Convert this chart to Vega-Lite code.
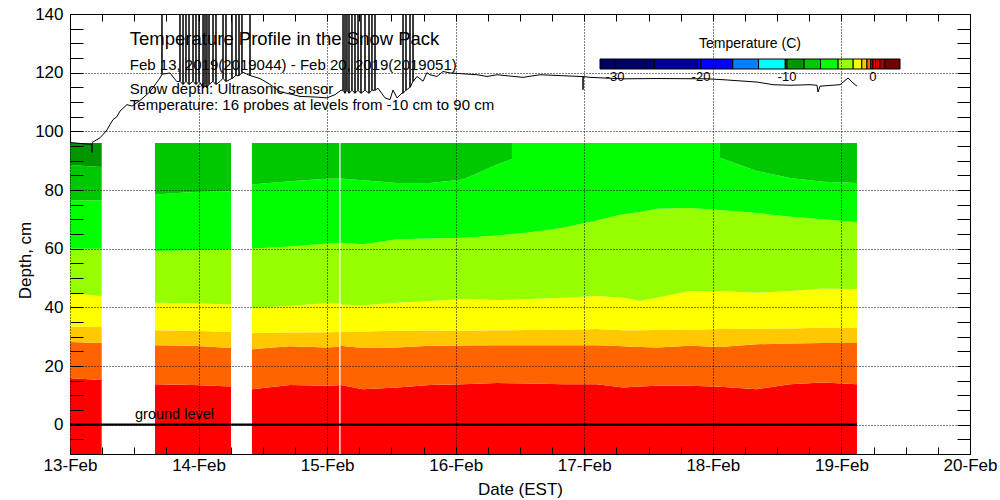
{
  "$schema": "https://vega.github.io/schema/vega-lite/v6.json",
  "width": 900,
  "height": 440,
  "autosize": "none",
  "padding": {"left": 70, "top": 14, "right": 30, "bottom": 46},
  "config": {
    "font": "Liberation Sans",
    "view": {"stroke": "black", "strokeWidth": 1},
    "axis": {"labelColor": "black", "tickColor": "black", "titleColor": "black", "labelFontSize": 17, "titleFontSize": 17, "titleFontWeight": "normal", "domain": false}
  },
  "datasets": {
    "bands": [
      {"t":"2019-02-13T00:00","g":"a","T":0,"lo":-10,"hi":15.8},
      {"t":"2019-02-13T00:00","g":"a","T":-0.5,"lo":15.8,"hi":28.2},
      {"t":"2019-02-13T00:00","g":"a","T":-1,"lo":28.2,"hi":33.5},
      {"t":"2019-02-13T00:00","g":"a","T":-1.8,"lo":33.5,"hi":45},
      {"t":"2019-02-13T00:00","g":"a","T":-3,"lo":45,"hi":60},
      {"t":"2019-02-13T00:00","g":"a","T":-5,"lo":60,"hi":76.5},
      {"t":"2019-02-13T00:00","g":"a","T":-7,"lo":76.5,"hi":88.5},
      {"t":"2019-02-13T00:00","g":"a","T":-9,"lo":88.5,"hi":96},
      {"t":"2019-02-13T05:55","g":"a","T":0,"lo":-10,"hi":15.2},
      {"t":"2019-02-13T05:55","g":"a","T":-0.5,"lo":15.2,"hi":27.8},
      {"t":"2019-02-13T05:55","g":"a","T":-1,"lo":27.8,"hi":33.3},
      {"t":"2019-02-13T05:55","g":"a","T":-1.8,"lo":33.3,"hi":43.8},
      {"t":"2019-02-13T05:55","g":"a","T":-3,"lo":43.8,"hi":60},
      {"t":"2019-02-13T05:55","g":"a","T":-5,"lo":60,"hi":76.4},
      {"t":"2019-02-13T05:55","g":"a","T":-7,"lo":76.4,"hi":87.8},
      {"t":"2019-02-13T05:55","g":"a","T":-9,"lo":87.8,"hi":96},
      {"t":"2019-02-13T15:52","g":"b","T":0,"lo":-10,"hi":13.8},
      {"t":"2019-02-13T15:52","g":"b","T":-0.5,"lo":13.8,"hi":27.1},
      {"t":"2019-02-13T15:52","g":"b","T":-1,"lo":27.1,"hi":32.2},
      {"t":"2019-02-13T15:52","g":"b","T":-1.8,"lo":32.2,"hi":41.6},
      {"t":"2019-02-13T15:52","g":"b","T":-3,"lo":41.6,"hi":59.2},
      {"t":"2019-02-13T15:52","g":"b","T":-5,"lo":59.2,"hi":78.5},
      {"t":"2019-02-13T15:52","g":"b","T":-7,"lo":78.5,"hi":96},
      {"t":"2019-02-13T22:58","g":"b","T":0,"lo":-10,"hi":13.5},
      {"t":"2019-02-13T22:58","g":"b","T":-0.5,"lo":13.5,"hi":26.9},
      {"t":"2019-02-13T22:58","g":"b","T":-1,"lo":26.9,"hi":32},
      {"t":"2019-02-13T22:58","g":"b","T":-1.8,"lo":32,"hi":41.4},
      {"t":"2019-02-13T22:58","g":"b","T":-3,"lo":41.4,"hi":59.5},
      {"t":"2019-02-13T22:58","g":"b","T":-5,"lo":59.5,"hi":79.3},
      {"t":"2019-02-13T22:58","g":"b","T":-7,"lo":79.3,"hi":96},
      {"t":"2019-02-14T06:03","g":"b","T":0,"lo":-10,"hi":13},
      {"t":"2019-02-14T06:03","g":"b","T":-0.5,"lo":13,"hi":26.1},
      {"t":"2019-02-14T06:03","g":"b","T":-1,"lo":26.1,"hi":31.6},
      {"t":"2019-02-14T06:03","g":"b","T":-1.8,"lo":31.6,"hi":41},
      {"t":"2019-02-14T06:03","g":"b","T":-3,"lo":41,"hi":59.8},
      {"t":"2019-02-14T06:03","g":"b","T":-5,"lo":59.8,"hi":79.6},
      {"t":"2019-02-14T06:03","g":"b","T":-7,"lo":79.6,"hi":96},
      {"t":"2019-02-14T09:58","g":"c","T":0,"lo":-10,"hi":12.1},
      {"t":"2019-02-14T09:58","g":"c","T":-0.5,"lo":12.1,"hi":25.7},
      {"t":"2019-02-14T09:58","g":"c","T":-1,"lo":25.7,"hi":31.2},
      {"t":"2019-02-14T09:58","g":"c","T":-1.8,"lo":31.2,"hi":39.7},
      {"t":"2019-02-14T09:58","g":"c","T":-3,"lo":39.7,"hi":60},
      {"t":"2019-02-14T09:58","g":"c","T":-5,"lo":60,"hi":81.9},
      {"t":"2019-02-14T09:58","g":"c","T":-7,"lo":81.9,"hi":96},
      {"t":"2019-02-14T17:04","g":"c","T":0,"lo":-10,"hi":13.5},
      {"t":"2019-02-14T17:04","g":"c","T":-0.5,"lo":13.5,"hi":26.7},
      {"t":"2019-02-14T17:04","g":"c","T":-1,"lo":26.7,"hi":31.4},
      {"t":"2019-02-14T17:04","g":"c","T":-1.8,"lo":31.4,"hi":40.5},
      {"t":"2019-02-14T17:04","g":"c","T":-3,"lo":40.5,"hi":60.7},
      {"t":"2019-02-14T17:04","g":"c","T":-5,"lo":60.7,"hi":83},
      {"t":"2019-02-14T17:04","g":"c","T":-7,"lo":83,"hi":96},
      {"t":"2019-02-14T23:58","g":"c","T":0,"lo":-10,"hi":13.3},
      {"t":"2019-02-14T23:58","g":"c","T":-0.5,"lo":13.3,"hi":26.3},
      {"t":"2019-02-14T23:58","g":"c","T":-1,"lo":26.3,"hi":31.5},
      {"t":"2019-02-14T23:58","g":"c","T":-1.8,"lo":31.5,"hi":41.4},
      {"t":"2019-02-14T23:58","g":"c","T":-3,"lo":41.4,"hi":61.8},
      {"t":"2019-02-14T23:58","g":"c","T":-5,"lo":61.8,"hi":83.8},
      {"t":"2019-02-14T23:58","g":"c","T":-7,"lo":83.8,"hi":96},
      {"t":"2019-02-15T02:16","g":"c","T":0,"lo":-10,"hi":13.4},
      {"t":"2019-02-15T02:16","g":"c","T":-0.5,"lo":13.4,"hi":26.6},
      {"t":"2019-02-15T02:16","g":"c","T":-1,"lo":26.6,"hi":31.6},
      {"t":"2019-02-15T02:16","g":"c","T":-1.8,"lo":31.6,"hi":41.2},
      {"t":"2019-02-15T02:16","g":"c","T":-3,"lo":41.2,"hi":62},
      {"t":"2019-02-15T02:16","g":"c","T":-5,"lo":62,"hi":83.9},
      {"t":"2019-02-15T02:16","g":"c","T":-7,"lo":83.9,"hi":96},
      {"t":"2019-02-15T02:30","g":"d","T":0,"lo":-10,"hi":13.5},
      {"t":"2019-02-15T02:30","g":"d","T":-0.5,"lo":13.5,"hi":26.9},
      {"t":"2019-02-15T02:30","g":"d","T":-1,"lo":26.9,"hi":31.6},
      {"t":"2019-02-15T02:30","g":"d","T":-1.8,"lo":31.6,"hi":41},
      {"t":"2019-02-15T02:30","g":"d","T":-3,"lo":41,"hi":62},
      {"t":"2019-02-15T02:30","g":"d","T":-5,"lo":62,"hi":83.9},
      {"t":"2019-02-15T02:30","g":"d1","T":-7,"lo":83.9,"hi":96},
      {"t":"2019-02-15T06:42","g":"d","T":0,"lo":-10,"hi":12.1},
      {"t":"2019-02-15T06:42","g":"d","T":-0.5,"lo":12.1,"hi":26.1},
      {"t":"2019-02-15T06:42","g":"d","T":-1,"lo":26.1,"hi":31.8},
      {"t":"2019-02-15T06:42","g":"d","T":-1.8,"lo":31.8,"hi":40.7},
      {"t":"2019-02-15T06:42","g":"d","T":-3,"lo":40.7,"hi":61.5},
      {"t":"2019-02-15T06:42","g":"d","T":-5,"lo":61.5,"hi":83.3},
      {"t":"2019-02-15T06:42","g":"d1","T":-7,"lo":83.3,"hi":96},
      {"t":"2019-02-15T13:02","g":"d","T":0,"lo":-10,"hi":12.7},
      {"t":"2019-02-15T13:02","g":"d","T":-0.5,"lo":12.7,"hi":26.3},
      {"t":"2019-02-15T13:02","g":"d","T":-1,"lo":26.3,"hi":32},
      {"t":"2019-02-15T13:02","g":"d","T":-1.8,"lo":32,"hi":41.6},
      {"t":"2019-02-15T13:02","g":"d","T":-3,"lo":41.6,"hi":63.2},
      {"t":"2019-02-15T13:02","g":"d","T":-5,"lo":63.2,"hi":82.4},
      {"t":"2019-02-15T13:02","g":"d1","T":-7,"lo":82.4,"hi":96},
      {"t":"2019-02-15T19:12","g":"d","T":0,"lo":-10,"hi":13.5},
      {"t":"2019-02-15T19:12","g":"d","T":-0.5,"lo":13.5,"hi":26.9},
      {"t":"2019-02-15T19:12","g":"d","T":-1,"lo":26.9,"hi":32.1},
      {"t":"2019-02-15T19:12","g":"d","T":-1.8,"lo":32.1,"hi":42.2},
      {"t":"2019-02-15T19:12","g":"d","T":-3,"lo":42.2,"hi":63.5},
      {"t":"2019-02-15T19:12","g":"d","T":-5,"lo":63.5,"hi":82.4},
      {"t":"2019-02-15T19:12","g":"d1","T":-7,"lo":82.4,"hi":96},
      {"t":"2019-02-16T01:22","g":"d","T":0,"lo":-10,"hi":13.8},
      {"t":"2019-02-16T01:22","g":"d","T":-0.5,"lo":13.8,"hi":27},
      {"t":"2019-02-16T01:22","g":"d","T":-1,"lo":27,"hi":32},
      {"t":"2019-02-16T01:22","g":"d","T":-1.8,"lo":32,"hi":42.8},
      {"t":"2019-02-16T01:22","g":"d","T":-3,"lo":42.8,"hi":63.7},
      {"t":"2019-02-16T01:22","g":"d","T":-5,"lo":63.7,"hi":83.6},
      {"t":"2019-02-16T01:22","g":"d1","T":-7,"lo":83.6,"hi":96},
      {"t":"2019-02-16T07:42","g":"d","T":0,"lo":-10,"hi":14.2},
      {"t":"2019-02-16T07:42","g":"d","T":-0.5,"lo":14.2,"hi":27.1},
      {"t":"2019-02-16T07:42","g":"d","T":-1,"lo":27.1,"hi":32.2},
      {"t":"2019-02-16T07:42","g":"d","T":-1.8,"lo":32.2,"hi":42.5},
      {"t":"2019-02-16T07:42","g":"d","T":-3,"lo":42.5,"hi":64.5},
      {"t":"2019-02-16T07:42","g":"d","T":-5,"lo":64.5,"hi":88.7},
      {"t":"2019-02-16T07:42","g":"d1","T":-7,"lo":88.7,"hi":96},
      {"t":"2019-02-16T10:30","g":"d","T":0,"lo":-10,"hi":14.1},
      {"t":"2019-02-16T10:30","g":"d","T":-0.5,"lo":14.1,"hi":27.1},
      {"t":"2019-02-16T10:30","g":"d","T":-1,"lo":27.1,"hi":32.2},
      {"t":"2019-02-16T10:30","g":"d","T":-1.8,"lo":32.2,"hi":42.6},
      {"t":"2019-02-16T10:30","g":"d","T":-3,"lo":42.6,"hi":65},
      {"t":"2019-02-16T10:30","g":"d","T":-5,"lo":65,"hi":90.6},
      {"t":"2019-02-16T10:30","g":"d1","T":-7,"lo":90.6,"hi":96},
      {"t":"2019-02-16T10:31","g":"d","T":-5,"lo":65,"hi":96},
      {"t":"2019-02-16T13:52","g":"d","T":0,"lo":-10,"hi":14},
      {"t":"2019-02-16T13:52","g":"d","T":-0.5,"lo":14,"hi":27.1},
      {"t":"2019-02-16T13:52","g":"d","T":-1,"lo":27.1,"hi":32.3},
      {"t":"2019-02-16T13:52","g":"d","T":-1.8,"lo":32.3,"hi":42.8},
      {"t":"2019-02-16T13:52","g":"d","T":-3,"lo":42.8,"hi":65.6},
      {"t":"2019-02-16T13:52","g":"d","T":-5,"lo":65.6,"hi":96},
      {"t":"2019-02-16T20:02","g":"d","T":0,"lo":-10,"hi":13.8},
      {"t":"2019-02-16T20:02","g":"d","T":-0.5,"lo":13.8,"hi":27.1},
      {"t":"2019-02-16T20:02","g":"d","T":-1,"lo":27.1,"hi":32.4},
      {"t":"2019-02-16T20:02","g":"d","T":-1.8,"lo":32.4,"hi":43.3},
      {"t":"2019-02-16T20:02","g":"d","T":-3,"lo":43.3,"hi":67.1},
      {"t":"2019-02-16T20:02","g":"d","T":-5,"lo":67.1,"hi":96},
      {"t":"2019-02-17T02:22","g":"d","T":0,"lo":-10,"hi":13.8},
      {"t":"2019-02-17T02:22","g":"d","T":-0.5,"lo":13.8,"hi":27.1},
      {"t":"2019-02-17T02:22","g":"d","T":-1,"lo":27.1,"hi":32.6},
      {"t":"2019-02-17T02:22","g":"d","T":-1.8,"lo":32.6,"hi":43.9},
      {"t":"2019-02-17T02:22","g":"d","T":-3,"lo":43.9,"hi":69.7},
      {"t":"2019-02-17T02:22","g":"d","T":-5,"lo":69.7,"hi":96},
      {"t":"2019-02-17T07:14","g":"d","T":0,"lo":-10,"hi":12.7},
      {"t":"2019-02-17T07:14","g":"d","T":-0.5,"lo":12.7,"hi":26.7},
      {"t":"2019-02-17T07:14","g":"d","T":-1,"lo":26.7,"hi":32.2},
      {"t":"2019-02-17T07:14","g":"d","T":-1.8,"lo":32.2,"hi":43.3},
      {"t":"2019-02-17T07:14","g":"d","T":-3,"lo":43.3,"hi":71.7},
      {"t":"2019-02-17T07:14","g":"d","T":-5,"lo":71.7,"hi":96},
      {"t":"2019-02-17T10:24","g":"d","T":0,"lo":-10,"hi":13},
      {"t":"2019-02-17T10:24","g":"d","T":-0.5,"lo":13,"hi":26.5},
      {"t":"2019-02-17T10:24","g":"d","T":-1,"lo":26.5,"hi":32.2},
      {"t":"2019-02-17T10:24","g":"d","T":-1.8,"lo":32.2,"hi":42.2},
      {"t":"2019-02-17T10:24","g":"d","T":-3,"lo":42.2,"hi":72.5},
      {"t":"2019-02-17T10:24","g":"d","T":-5,"lo":72.5,"hi":96},
      {"t":"2019-02-17T13:34","g":"d","T":0,"lo":-10,"hi":13.3},
      {"t":"2019-02-17T13:34","g":"d","T":-0.5,"lo":13.3,"hi":26.3},
      {"t":"2019-02-17T13:34","g":"d","T":-1,"lo":26.3,"hi":32.3},
      {"t":"2019-02-17T13:34","g":"d","T":-1.8,"lo":32.3,"hi":43.3},
      {"t":"2019-02-17T13:34","g":"d","T":-3,"lo":43.3,"hi":73.6},
      {"t":"2019-02-17T13:34","g":"d","T":-5,"lo":73.6,"hi":96},
      {"t":"2019-02-17T19:44","g":"d","T":0,"lo":-10,"hi":13.3},
      {"t":"2019-02-17T19:44","g":"d","T":-0.5,"lo":13.3,"hi":26.9},
      {"t":"2019-02-17T19:44","g":"d","T":-1,"lo":26.9,"hi":32.4},
      {"t":"2019-02-17T19:44","g":"d","T":-1.8,"lo":32.4,"hi":45.6},
      {"t":"2019-02-17T19:44","g":"d","T":-3,"lo":45.6,"hi":73.9},
      {"t":"2019-02-17T19:44","g":"d","T":-5,"lo":73.9,"hi":96},
      {"t":"2019-02-18T01:19","g":"d","T":-5,"lo":73.2,"hi":96},
      {"t":"2019-02-18T01:20","g":"d","T":0,"lo":-10,"hi":12.9},
      {"t":"2019-02-18T01:20","g":"d","T":-0.5,"lo":12.9,"hi":26.5},
      {"t":"2019-02-18T01:20","g":"d","T":-1,"lo":26.5,"hi":32.6},
      {"t":"2019-02-18T01:20","g":"d","T":-1.8,"lo":32.6,"hi":45.6},
      {"t":"2019-02-18T01:20","g":"d","T":-3,"lo":45.6,"hi":73.2},
      {"t":"2019-02-18T01:20","g":"d","T":-5,"lo":73.2,"hi":91},
      {"t":"2019-02-18T01:20","g":"d2","T":-7,"lo":91,"hi":96},
      {"t":"2019-02-18T08:14","g":"d","T":0,"lo":-10,"hi":12.1},
      {"t":"2019-02-18T08:14","g":"d","T":-0.5,"lo":12.1,"hi":27.4},
      {"t":"2019-02-18T08:14","g":"d","T":-1,"lo":27.4,"hi":32.7},
      {"t":"2019-02-18T08:14","g":"d","T":-1.8,"lo":32.7,"hi":45},
      {"t":"2019-02-18T08:14","g":"d","T":-3,"lo":45,"hi":72.2},
      {"t":"2019-02-18T08:14","g":"d","T":-5,"lo":72.2,"hi":86.5},
      {"t":"2019-02-18T08:14","g":"d2","T":-7,"lo":86.5,"hi":96},
      {"t":"2019-02-18T14:24","g":"d","T":0,"lo":-10,"hi":13.8},
      {"t":"2019-02-18T14:24","g":"d","T":-0.5,"lo":13.8,"hi":27.7},
      {"t":"2019-02-18T14:24","g":"d","T":-1,"lo":27.7,"hi":32.8},
      {"t":"2019-02-18T14:24","g":"d","T":-1.8,"lo":32.8,"hi":45.6},
      {"t":"2019-02-18T14:24","g":"d","T":-3,"lo":45.6,"hi":70.9},
      {"t":"2019-02-18T14:24","g":"d","T":-5,"lo":70.9,"hi":84.1},
      {"t":"2019-02-18T14:24","g":"d2","T":-7,"lo":84.1,"hi":96},
      {"t":"2019-02-18T20:34","g":"d","T":0,"lo":-10,"hi":14.4},
      {"t":"2019-02-18T20:34","g":"d","T":-0.5,"lo":14.4,"hi":27.8},
      {"t":"2019-02-18T20:34","g":"d","T":-1,"lo":27.8,"hi":33},
      {"t":"2019-02-18T20:34","g":"d","T":-1.8,"lo":33,"hi":46.4},
      {"t":"2019-02-18T20:34","g":"d","T":-3,"lo":46.4,"hi":70},
      {"t":"2019-02-18T20:34","g":"d","T":-5,"lo":70,"hi":82.8},
      {"t":"2019-02-18T20:34","g":"d2","T":-7,"lo":82.8,"hi":96},
      {"t":"2019-02-19T02:54","g":"d","T":0,"lo":-10,"hi":13.8},
      {"t":"2019-02-19T02:54","g":"d","T":-0.5,"lo":13.8,"hi":27.8},
      {"t":"2019-02-19T02:54","g":"d","T":-1,"lo":27.8,"hi":33.1},
      {"t":"2019-02-19T02:54","g":"d","T":-1.8,"lo":33.1,"hi":46.2},
      {"t":"2019-02-19T02:54","g":"d","T":-3,"lo":46.2,"hi":69},
      {"t":"2019-02-19T02:54","g":"d","T":-5,"lo":69,"hi":82.4},
      {"t":"2019-02-19T02:54","g":"d2","T":-7,"lo":82.4,"hi":96}
    ],
    "snow": [
      {"t":"2019-02-13T00:00","d":96.2},
      {"t":"2019-02-13T02:48","d":95.7},
      {"t":"2019-02-13T04:04","d":95.6},
      {"t":"2019-02-13T04:06","d":92.8},
      {"t":"2019-02-13T04:08","d":96.2},
      {"t":"2019-02-13T05:36","d":97.8},
      {"t":"2019-02-13T06:10","d":98.9},
      {"t":"2019-02-13T06:54","d":100.5},
      {"t":"2019-02-13T07:28","d":102.3},
      {"t":"2019-02-13T08:02","d":104},
      {"t":"2019-02-13T08:46","d":105},
      {"t":"2019-02-13T09:20","d":106.9},
      {"t":"2019-02-13T10:38","d":109.1},
      {"t":"2019-02-13T11:34","d":108.6},
      {"t":"2019-02-13T13:04","d":110.5},
      {"t":"2019-02-13T14:56","d":113.5},
      {"t":"2019-02-13T16:48","d":118.2},
      {"t":"2019-02-13T17:08","d":119.3},
      {"t":"2019-02-13T17:10","d":150},
      {"t":"2019-02-13T17:12","d":119.5},
      {"t":"2019-02-13T18:40","d":119.9},
      {"t":"2019-02-13T19:55","d":117},
      {"t":"2019-02-13T20:30","d":117},
      {"t":"2019-02-13T20:32","d":150},
      {"t":"2019-02-13T20:34","d":117},
      {"t":"2019-02-13T21:04","d":116},
      {"t":"2019-02-13T21:06","d":150},
      {"t":"2019-02-13T21:08","d":116},
      {"t":"2019-02-13T21:37","d":117},
      {"t":"2019-02-13T21:39","d":150},
      {"t":"2019-02-13T21:41","d":117},
      {"t":"2019-02-13T22:11","d":116},
      {"t":"2019-02-13T22:13","d":150},
      {"t":"2019-02-13T22:15","d":116},
      {"t":"2019-02-13T22:56","d":117},
      {"t":"2019-02-13T22:58","d":150},
      {"t":"2019-02-13T23:00","d":117},
      {"t":"2019-02-13T23:29","d":116},
      {"t":"2019-02-13T23:31","d":150},
      {"t":"2019-02-13T23:33","d":116},
      {"t":"2019-02-14T00:03","d":117},
      {"t":"2019-02-14T00:05","d":150},
      {"t":"2019-02-14T00:07","d":117},
      {"t":"2019-02-14T00:48","d":115},
      {"t":"2019-02-14T00:50","d":150},
      {"t":"2019-02-14T00:52","d":115},
      {"t":"2019-02-14T01:10","d":116},
      {"t":"2019-02-14T01:12","d":150},
      {"t":"2019-02-14T01:14","d":116},
      {"t":"2019-02-14T01:32","d":115},
      {"t":"2019-02-14T01:34","d":150},
      {"t":"2019-02-14T01:36","d":115},
      {"t":"2019-02-14T01:55","d":116},
      {"t":"2019-02-14T01:57","d":150},
      {"t":"2019-02-14T01:59","d":116},
      {"t":"2019-02-14T02:40","d":117},
      {"t":"2019-02-14T02:42","d":150},
      {"t":"2019-02-14T02:44","d":117},
      {"t":"2019-02-14T03:13","d":116},
      {"t":"2019-02-14T03:15","d":150},
      {"t":"2019-02-14T03:17","d":116},
      {"t":"2019-02-14T04:00","d":117},
      {"t":"2019-02-14T04:32","d":118},
      {"t":"2019-02-14T04:34","d":150},
      {"t":"2019-02-14T04:36","d":118},
      {"t":"2019-02-14T05:05","d":117},
      {"t":"2019-02-14T05:07","d":150},
      {"t":"2019-02-14T05:09","d":117},
      {"t":"2019-02-14T06:12","d":118},
      {"t":"2019-02-14T06:14","d":150},
      {"t":"2019-02-14T06:16","d":118},
      {"t":"2019-02-14T06:57","d":119},
      {"t":"2019-02-14T06:59","d":150},
      {"t":"2019-02-14T07:01","d":119},
      {"t":"2019-02-14T07:31","d":119},
      {"t":"2019-02-14T07:33","d":150},
      {"t":"2019-02-14T07:35","d":119},
      {"t":"2019-02-14T08:04","d":120},
      {"t":"2019-02-14T08:06","d":150},
      {"t":"2019-02-14T08:08","d":120},
      {"t":"2019-02-14T08:29","d":120},
      {"t":"2019-02-14T09:34","d":119},
      {"t":"2019-02-14T09:36","d":150},
      {"t":"2019-02-14T09:38","d":119},
      {"t":"2019-02-14T11:28","d":118},
      {"t":"2019-02-14T13:20","d":116},
      {"t":"2019-02-14T15:12","d":113.5},
      {"t":"2019-02-14T17:38","d":112.5},
      {"t":"2019-02-14T18:56","d":111.9},
      {"t":"2019-02-14T21:44","d":111.7},
      {"t":"2019-02-14T23:58","d":111.4},
      {"t":"2019-02-15T01:28","d":112.5},
      {"t":"2019-02-15T02:35","d":114},
      {"t":"2019-02-15T02:56","d":114},
      {"t":"2019-02-15T02:58","d":150},
      {"t":"2019-02-15T03:00","d":114},
      {"t":"2019-02-15T03:18","d":113},
      {"t":"2019-02-15T03:20","d":150},
      {"t":"2019-02-15T03:22","d":113},
      {"t":"2019-02-15T03:40","d":114},
      {"t":"2019-02-15T03:42","d":150},
      {"t":"2019-02-15T03:44","d":114},
      {"t":"2019-02-15T04:03","d":113},
      {"t":"2019-02-15T04:05","d":150},
      {"t":"2019-02-15T04:07","d":113},
      {"t":"2019-02-15T04:36","d":114},
      {"t":"2019-02-15T04:38","d":150},
      {"t":"2019-02-15T04:40","d":114},
      {"t":"2019-02-15T05:10","d":113},
      {"t":"2019-02-15T05:12","d":150},
      {"t":"2019-02-15T05:14","d":113},
      {"t":"2019-02-15T05:44","d":114},
      {"t":"2019-02-15T05:46","d":150},
      {"t":"2019-02-15T05:48","d":114},
      {"t":"2019-02-15T06:17","d":113},
      {"t":"2019-02-15T06:19","d":150},
      {"t":"2019-02-15T06:21","d":113},
      {"t":"2019-02-15T07:02","d":114},
      {"t":"2019-02-15T07:04","d":150},
      {"t":"2019-02-15T07:06","d":114},
      {"t":"2019-02-15T07:47","d":113},
      {"t":"2019-02-15T07:49","d":150},
      {"t":"2019-02-15T07:51","d":113},
      {"t":"2019-02-15T08:20","d":114},
      {"t":"2019-02-15T08:22","d":150},
      {"t":"2019-02-15T08:24","d":114},
      {"t":"2019-02-15T08:54","d":114},
      {"t":"2019-02-15T08:56","d":150},
      {"t":"2019-02-15T08:58","d":114},
      {"t":"2019-02-15T09:30","d":114.7},
      {"t":"2019-02-15T10:48","d":111.4},
      {"t":"2019-02-15T11:44","d":110.8},
      {"t":"2019-02-15T12:18","d":114.1},
      {"t":"2019-02-15T13:02","d":111.4},
      {"t":"2019-02-15T13:58","d":113},
      {"t":"2019-02-15T14:08","d":113},
      {"t":"2019-02-15T14:10","d":150},
      {"t":"2019-02-15T14:12","d":113},
      {"t":"2019-02-15T14:41","d":114},
      {"t":"2019-02-15T14:43","d":150},
      {"t":"2019-02-15T14:45","d":114},
      {"t":"2019-02-15T15:26","d":115},
      {"t":"2019-02-15T15:28","d":150},
      {"t":"2019-02-15T15:30","d":115},
      {"t":"2019-02-15T16:00","d":117},
      {"t":"2019-02-15T16:02","d":150},
      {"t":"2019-02-15T16:04","d":117},
      {"t":"2019-02-15T16:46","d":118.7},
      {"t":"2019-02-15T17:54","d":117.1},
      {"t":"2019-02-15T18:38","d":120},
      {"t":"2019-02-15T19:12","d":119.3},
      {"t":"2019-02-15T20:30","d":118.7},
      {"t":"2019-02-15T21:38","d":120.4},
      {"t":"2019-02-15T22:56","d":119.9},
      {"t":"2019-02-16T03:58","d":119.3},
      {"t":"2019-02-16T05:50","d":118.7},
      {"t":"2019-02-16T07:42","d":119.3},
      {"t":"2019-02-16T12:34","d":118.4},
      {"t":"2019-02-16T15:44","d":119.3},
      {"t":"2019-02-16T19:28","d":119},
      {"t":"2019-02-16T23:12","d":118.7},
      {"t":"2019-02-16T23:44","d":118.7},
      {"t":"2019-02-16T23:46","d":114.2},
      {"t":"2019-02-16T23:48","d":118.7},
      {"t":"2019-02-17T01:04","d":118.4},
      {"t":"2019-02-17T07:14","d":117.9},
      {"t":"2019-02-17T13:34","d":118},
      {"t":"2019-02-17T22:54","d":117.9},
      {"t":"2019-02-18T01:54","d":117.6},
      {"t":"2019-02-18T08:14","d":116.8},
      {"t":"2019-02-18T11:14","d":115.9},
      {"t":"2019-02-18T14:24","d":115.7},
      {"t":"2019-02-18T18:08","d":115.9},
      {"t":"2019-02-18T19:26","d":115.7},
      {"t":"2019-02-18T19:38","d":113.4},
      {"t":"2019-02-18T20:00","d":115.4},
      {"t":"2019-02-18T23:44","d":115.9},
      {"t":"2019-02-19T01:14","d":118.2},
      {"t":"2019-02-19T02:10","d":116.5},
      {"t":"2019-02-19T02:54","d":115.4}
    ]
  },
  "layer": [
    {
      "data": {"name": "bands"},
      "mark": {"type": "area", "interpolate": "linear"},
      "encoding": {
        "x": {
          "field": "t", "type": "temporal",
          "scale": {"domain": [{"year": 2019, "month": 2, "date": 13}, {"year": 2019, "month": 2, "date": 20}]},
          "axis": {
            "orient": "bottom", "title": "Date (EST)",
            "tickCount": 28,
            "labelExpr": "hours(datum.value) == 0 ? timeFormat(datum.value, '%d-%b') : ''",
            "tickSize": -7, "labelPadding": 10, "labelFlush": false, "labelOverlap": false, "labelBound": false,
            "grid": true, "gridColor": "black", "gridDash": [1, 2],
            "gridOpacity": {"condition": {"test": "hours(datum.value) == 0", "value": 1}, "value": 0},
            "titlePadding": 8, "zindex": 1
          }
        },
        "y": {
          "field": "lo", "type": "quantitative",
          "scale": {"domain": [-10, 140], "nice": false, "zero": false},
          "axis": {
            "orient": "left", "title": "Depth, cm", "titleY": 246,
            "values": [-10,-5,0,5,10,15,20,25,30,35,40,45,50,55,60,65,70,75,80,85,90,95,100,105,110,115,120,125,130,135,140],
            "labelExpr": "datum.value % 20 == 0 ? datum.label : ''",
            "tickSize": -13, "labelPadding": 20, "labelOverlap": false,
            "grid": true, "gridColor": "black", "gridDash": [1, 2],
            "gridOpacity": {"condition": {"test": "datum.value % 20 == 0", "value": 1}, "value": 0},
            "titlePadding": 0, "zindex": 1
          }
        },
        "y2": {"field": "hi"},
        "detail": {"field": "g"},
        "color": {
          "field": "T", "type": "quantitative",
          "scale": {
            "type": "threshold",
            "domain": [-30, -25.4, -20.4, -20, -16.3, -13.3, -10.2, -10, -8, -6.1, -4.05, -2.3, -1.3, -0.7, -0.25, 0, 0.3, 0.8, 1.4],
            "range": ["#000064", "#000064", "#000096", "#0000ff", "#0000ff", "#0080ff", "#00ffff", "#009600", "#009600", "#00c800", "#00ff00", "#96ff00", "#ffff00", "#ffc800", "#ff6400", "#ff0000", "#ff0000", "#d00000", "#a00000", "#700000"]
          },
          "legend": {
            "type": "gradient", "direction": "horizontal", "orient": "none",
            "legendX": 530, "legendY": 23,
            "gradientLength": 300, "gradientThickness": 10,
            "gradientStrokeColor": "black", "gradientStrokeWidth": 1,
            "title": "Temperature (C)", "titleOrient": "top", "titleFontSize": 14, "titleFontWeight": "normal", "titleColor": "black",
            "titleAnchor": "middle", "titlePadding": 8,
            "labelFontSize": 13, "labelColor": "black", "labelOverlap": false,
            "labelExpr": "indexof([-30, -20, -10, 0], datum.value) >= 0 ? datum.label : ''"
          }
        }
      }
    },
    {
      "data": {"values": [{"t0": "2019-02-13T00:00", "t1": "2019-02-19T02:54", "y": 0}]},
      "mark": {"type": "rule", "color": "black", "strokeWidth": 2.2},
      "encoding": {
        "x": {"field": "t0", "type": "temporal", "axis": null},
        "x2": {"field": "t1"},
        "y": {"field": "y", "type": "quantitative", "axis": null}
      }
    },
    {
      "data": {"name": "snow"},
      "mark": {"type": "line", "color": "black", "strokeWidth": 1, "clip": true},
      "encoding": {
        "x": {
          "field": "t", "type": "temporal",
          "axis": {"orient": "top", "labels": false, "title": null, "tickCount": 28, "tickSize": -7, "grid": false}
        },
        "y": {
          "field": "d", "type": "quantitative",
          "axis": {"orient": "right", "labels": false, "title": null, "values": [-10,-5,0,5,10,15,20,25,30,35,40,45,50,55,60,65,70,75,80,85,90,95,100,105,110,115,120,125,130,135,140], "tickSize": -13, "grid": false}
        }
      }
    },
    {
      "data": {"values": [{"t": "2019-02-13T11:10", "y": 129.4, "txt": "Temperature Profile in the Snow Pack"}]},
      "mark": {"type": "text", "align": "left", "baseline": "alphabetic", "fontSize": 18.5, "color": "black"},
      "encoding": {
        "x": {"field": "t", "type": "temporal", "axis": null},
        "y": {"field": "y", "type": "quantitative", "axis": null},
        "text": {"field": "txt"}
      }
    },
    {
      "data": {"values": [
        {"t": "2019-02-13T11:10", "y": 121, "txt": "Feb 13, 2019(2019044) - Feb 20, 2019(2019051)"},
        {"t": "2019-02-13T11:10", "y": 112.6, "txt": "Snow depth: Ultrasonic sensor"},
        {"t": "2019-02-13T11:10", "y": 107.2, "txt": "Temperature: 16 probes at levels from -10 cm to 90 cm"}
      ]},
      "mark": {"type": "text", "align": "left", "baseline": "alphabetic", "fontSize": 15, "color": "black"},
      "encoding": {
        "x": {"field": "t", "type": "temporal", "axis": null},
        "y": {"field": "y", "type": "quantitative", "axis": null},
        "text": {"field": "txt"}
      }
    },
    {
      "data": {"values": [{"t": "2019-02-13T12:08", "y": 1.8, "txt": "ground level"}]},
      "mark": {"type": "text", "align": "left", "baseline": "alphabetic", "fontSize": 14.5, "color": "black"},
      "encoding": {
        "x": {"field": "t", "type": "temporal", "axis": null},
        "y": {"field": "y", "type": "quantitative", "axis": null},
        "text": {"field": "txt"}
      }
    }
  ],
  "resolve": {"axis": {"x": "independent", "y": "independent"}}
}
